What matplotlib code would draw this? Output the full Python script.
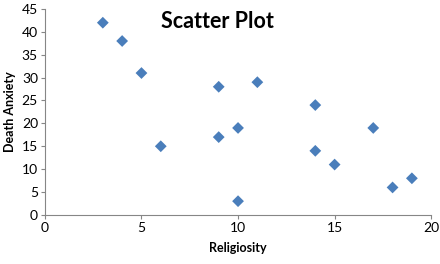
import matplotlib
matplotlib.use("Agg")
import matplotlib.pyplot as plt

plt.rcParams['font.family'] = ['Lato', 'DejaVu Sans']

religiosity = [3, 4, 5, 6, 9, 9, 10, 10, 11, 14, 14, 15, 17, 18, 19]
death_anxiety = [42, 38, 31, 15, 28, 17, 19, 3, 29, 24, 14, 11, 19, 6, 8]

fig = plt.figure(figsize=(4.4, 2.64), dpi=100)
ax = fig.add_axes([0.102, 0.186, 0.878, 0.780])

ax.scatter(religiosity, death_anxiety, marker='D', s=36, color='#4a7ebb', edgecolors='none', zorder=3)

ax.set_xlim(0, 20)
ax.set_ylim(0, 45)
ax.set_xticks([0, 5, 10, 15, 20])
ax.set_yticks(range(0, 50, 5))

for s in ['top', 'right']:
    ax.spines[s].set_visible(False)
for s in ['left', 'bottom']:
    ax.spines[s].set_color('#868686')
    ax.spines[s].set_linewidth(0.8)
ax.tick_params(axis='both', length=3, width=0.8, color='#868686', labelsize=10, pad=2)

ax.set_xlabel('Religiosity', fontsize=9, fontweight='bold', labelpad=6)
ax.set_ylabel('Death Anxiety', fontsize=9, fontweight='bold', labelpad=4)
fig.text(0.495, 0.92, 'Scatter Plot', fontsize=15.5, fontweight='bold', ha='center', va='center')

fig.savefig('out.png', dpi=100)
